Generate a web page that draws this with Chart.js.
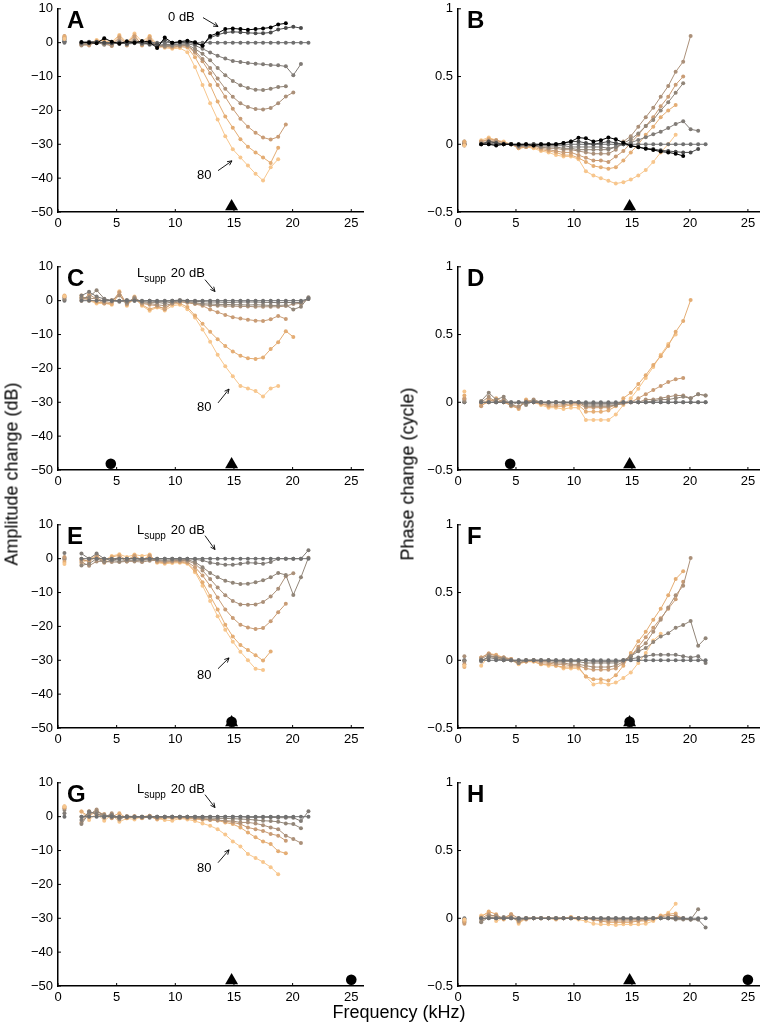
<!DOCTYPE html>
<html>
<head>
<meta charset="utf-8">
<title>Two-tone suppression panels</title>
<script src="https://cdn.jsdelivr.net/npm/chart.js@4.4.1/dist/chart.umd.min.js"></script>
<style>
  html, body { margin: 0; padding: 0; background: #fff; }
  #page { position: relative; width: 767px; height: 1030px; overflow: hidden;
          font-family: "Liberation Sans", Arial, sans-serif; color: #000; }
  #page canvas { position: absolute; }
  .axis-title { position: absolute; font-size: 18px; white-space: nowrap; transform: translate(-50%, -50%); }
  .axis-title.vertical { transform: translate(-50%, -50%) rotate(-90deg); }
</style>
</head>
<body>
<div id="page">
  <div class="axis-title vertical" style="left:12px; top:474px">Amplitude change (dB)</div>
  <div class="axis-title vertical" style="left:408px; top:474px">Phase change (cycle)</div>
  <div class="axis-title" style="left:399px; top:1012px">Frequency (kHz)</div>
</div>
<script>
// frequency grid (kHz) shared by all panels
const freqs = [2.00, 2.65, 3.29, 3.94, 4.58, 5.23, 5.87, 6.52, 7.16, 7.81,
  8.45, 9.10, 9.74, 10.39, 11.03, 11.68, 12.32, 12.97, 13.61, 14.26,
  14.90, 15.55, 16.19, 16.84, 17.48, 18.13, 18.77, 19.42, 20.06, 20.71, 21.35];
const lowFreq = 0.55;

const xTicks = [0, 5, 10, 15, 20, 25];
const ampTicks = [-50, -40, -30, -20, -10, 0, 10];
const phaseTicks = [-0.5, 0, 0.5, 1];

// suppressor levels (dB SPL)
const levelsAB = [0, 10, 20, 30, 40, 50, 60, 70, 80];
const levelsCH = [20, 30, 40, 50, 60, 70, 80];

// A: amplitude, levels 0..80
const ampA = [
  [0.2, 0.0, -0.2, 1.3, 0.3, -0.3, 0.4, 0.0, 0.5, 0.2, -1.6, 1.5, 0.0, 0.3, 0.6, 0.1, -0.9, 2.0, 2.8, 4.0, 4.2, 4.0, 3.8, 4.0, 4.2, 4.5, 5.4, 5.7, null, null, null],
  [0.0, 0.3, 0.2, 0.0, -0.2, 0.0, -0.3, 0.1, 0.0, -0.4, -0.5, 0.8, -0.2, 0.1, 0.2, -0.3, -0.8, 1.5, 2.3, 3.0, 3.2, 3.1, 2.9, 2.8, 2.8, 3.0, 3.9, 4.3, 4.7, 4.3, null],
  [0, 0, 0, 0, 0, 0, 0, 0, 0, 0, 0, 0, 0, 0, 0, 0, 0, 0, 0, 0, 0, 0, 0, 0, 0, 0, 0, 0, 0, 0, 0],
  [-0.2, 0.1, 0.3, -0.2, 0.0, 0.2, -0.4, -0.2, 0.0, -0.6, -0.8, -0.5, -0.6, -0.4, -0.3, -0.8, -1.8, -2.9, -3.9, -4.7, -5.4, -5.7, -6.0, -6.2, -6.4, -6.6, -6.7, -7.0, -9.6, -6.3, null],
  [-0.5, -0.2, 0.2, -0.6, 0.1, -0.3, -0.2, 0.5, -0.5, -0.2, -0.7, -0.9, -0.8, -0.6, -0.6, -1.8, -3.3, -5.2, -7.5, -9.6, -11.3, -12.6, -13.4, -13.9, -14.0, -13.6, -13.1, -12.9, null, null, null],
  [-0.8, -0.4, 0.0, -0.5, -0.8, 0.6, -0.6, 0.8, -0.3, 0.5, -1.0, -1.2, -1.0, -0.9, -0.8, -2.5, -4.8, -7.5, -10.6, -13.6, -16.0, -17.9, -19.0, -19.6, -19.7, -19.3, -17.9, -15.9, -14.7, null, null],
  [-0.6, -0.8, 0.3, 0.0, -1.0, 1.5, -0.8, 1.8, -0.6, 1.2, -1.2, -1.0, -1.3, -1.0, -1.0, -3.0, -5.5, -9.0, -12.5, -16.0, -19.5, -22.5, -24.8, -26.6, -28.0, -28.6, -27.8, -24.2, null, null, null],
  [-0.3, -0.5, 0.5, 0.8, -0.5, 2.0, -0.3, 2.2, -0.8, 1.8, -1.4, -1.2, -1.5, -1.2, -1.4, -4.3, -8.2, -12.5, -17.4, -21.8, -25.1, -28.5, -30.7, -32.4, -33.9, -35.5, -31.0, null, null, null, null],
  [-0.5, -0.3, 0.8, 0.5, 0.2, 2.3, 0.0, 2.7, 0.3, 2.0, -0.5, -1.5, -1.8, -1.6, -2.8, -7.2, -12.5, -17.9, -22.7, -27.6, -31.5, -33.9, -36.3, -38.7, -40.7, -36.8, -34.4, null, null, null, null]
];
const lowA = [0.3, 0.5, 0.0, 1.0, 1.2, 1.6, 2.0, 1.8, 1.1];

// B: phase, levels 0..80
const phaseB = [
  [0.0, 0.0, -0.01, 0.0, 0.0, 0.0, 0.0, -0.01, 0.0, 0.0, 0.0, 0.01, 0.02, 0.049, 0.044, 0.02, 0.03, 0.05, 0.037, 0.012, -0.012, -0.022, -0.034, -0.042, -0.054, -0.06, -0.07, -0.086, null, null, null],
  [0.0, 0.02, 0.01, 0.0, 0.0, -0.01, 0.0, 0.0, 0.0, 0.0, 0.0, 0.01, 0.02, 0.02, 0.01, 0.0, 0.01, 0.02, 0.01, 0.0, -0.01, -0.02, -0.03, -0.035, -0.045, -0.05, -0.055, -0.06, -0.06, -0.035, null],
  [0, 0, 0, 0, 0, 0, 0, 0, 0, 0, 0, 0, 0, 0, 0, 0, 0, 0, 0, 0, 0, 0, 0, 0, 0, 0, 0, 0, 0, 0, 0],
  [0.0, 0.01, 0.0, 0.0, 0.0, -0.01, -0.01, 0.0, -0.01, -0.01, -0.01, -0.01, -0.02, -0.02, -0.02, -0.02, -0.02, -0.03, -0.02, 0.0, 0.012, 0.032, 0.052, 0.074, 0.093, 0.12, 0.15, 0.17, 0.11, 0.10, null],
  [0.0, 0.02, 0.01, 0.0, 0.0, -0.01, -0.01, -0.01, -0.02, -0.02, -0.02, -0.03, -0.03, -0.04, -0.04, -0.04, -0.04, -0.04, -0.02, 0.007, 0.037, 0.08, 0.135, 0.18, 0.25, 0.31, 0.38, 0.45, null, null, null],
  [0.01, 0.02, 0.02, 0.0, 0.0, -0.02, -0.01, -0.01, -0.02, -0.03, -0.03, -0.04, -0.04, -0.05, -0.06, -0.07, -0.07, -0.07, -0.04, 0.02, 0.06, 0.13, 0.2, 0.27, 0.35, 0.43, 0.535, 0.61, 0.8, null, null],
  [0.02, 0.03, 0.03, 0.01, 0.0, -0.02, -0.02, -0.01, -0.03, -0.04, -0.05, -0.06, -0.06, -0.08, -0.1, -0.12, -0.12, -0.13, -0.09, -0.05, 0.01, 0.07, 0.135, 0.2, 0.28, 0.35, 0.44, 0.5, null, null, null],
  [0.02, 0.04, 0.03, 0.01, 0.0, -0.03, -0.02, -0.02, -0.04, -0.05, -0.06, -0.08, -0.08, -0.1, -0.13, -0.16, -0.17, -0.18, -0.17, -0.12, -0.06, 0.0, 0.07, 0.13, 0.2, 0.25, 0.29, null, null, null, null],
  [0.03, 0.05, 0.03, 0.02, 0.0, -0.03, -0.02, -0.03, -0.05, -0.06, -0.08, -0.09, -0.09, -0.11, -0.2, -0.23, -0.25, -0.27, -0.29, -0.28, -0.26, -0.23, -0.19, -0.13, -0.06, 0.0, 0.07, null, null, null, null]
];
const lowB = [0.0, 0.01, 0.0, -0.01, 0.02, 0.01, 0.0, 0.02, -0.01];

// C: amplitude, levels 20..80
const ampC = [
  [0, 0, 0, 0, 0, 0, 0, 0, 0, 0, 0, 0, 0, 0, 0, 0, 0, 0, 0, 0, 0, 0, 0, 0, 0, 0, 0, 0, 0, 0, 0.5],
  [1.5, 2.6, 1.2, 0.5, 0.0, -0.3, 0.2, 0.0, -0.2, 0.0, -0.3, -0.3, 0.0, 0.2, 0.0, -0.2, -0.3, -0.4, -0.4, -0.5, -0.5, -0.4, -0.4, -0.4, -0.5, -0.5, -0.6, -0.5, -0.6, -0.5, 0.8],
  [0.8, 1.0, 3.1, 0.6, 0.0, 0.0, -0.5, 0.5, -0.3, -0.5, -0.5, -0.8, -0.4, 0.0, -0.2, -0.6, -0.9, -1.0, -1.1, -1.1, -1.2, -1.2, -1.3, -1.2, -1.3, -1.4, -1.4, -1.3, -2.6, -1.8, 1.0],
  [0.5, 0.5, 0.8, -0.3, 0.2, 1.5, -0.8, 1.0, -0.6, -0.8, -1.2, -1.5, -0.8, -0.3, -0.5, -0.8, -1.2, -1.4, -1.5, -1.6, -1.6, -1.7, -1.7, -1.8, -1.8, -1.8, -1.8, -1.6, -1.0, -0.8, 0.5],
  [0.0, 1.8, 0.5, -0.8, -0.5, 2.5, -1.0, 0.8, -0.8, -1.2, -1.5, -2.5, -0.6, -0.3, -0.6, -1.0, -1.5, -2.6, -3.4, -4.2, -4.9, -5.3, -5.6, -5.9, -6.0, -5.5, -4.5, -5.4, null, null, null],
  [1.0, 0.3, -0.5, -0.6, -1.0, 1.8, -1.2, 0.5, -1.2, -2.5, -1.8, -2.2, -1.0, -0.8, -1.9, -4.4, -6.8, -9.2, -11.4, -13.4, -15.0, -16.3, -17.0, -17.2, -16.8, -14.3, -12.3, -9.0, -10.7, null, null],
  [1.5, 0.0, -0.8, -0.8, -1.2, 2.8, -1.5, 1.2, -1.5, -3.0, -2.0, -2.9, -1.5, -1.2, -2.5, -5.0, -8.5, -12.1, -16.0, -19.4, -22.3, -25.2, -25.9, -26.7, -28.3, -25.9, -25.2, null, null, null, null]
];
const lowC = [0.0, 0.3, 0.6, 1.0, 1.2, 1.5, 1.3];

// D: phase, levels 20..80
const phaseD = [
  [0, 0, 0, 0, 0, 0, 0, 0, 0, 0, 0, 0, 0, 0, 0, 0, 0, 0, 0, 0, 0, 0, 0, 0, 0, 0, 0, 0, 0, 0, 0],
  [0.0, 0.0, 0.0, 0.0, 0.0, 0.0, 0.0, 0.0, 0.0, 0.0, 0.0, 0.0, 0.0, 0.0, -0.01, -0.01, -0.01, -0.01, -0.01, 0.0, 0.0, 0.0, 0.0, 0.0, 0.0, 0.0, 0.0, 0.0, 0.0, 0.0, 0.0],
  [0.01, 0.07, 0.02, 0.04, -0.02, 0.0, -0.02, 0.01, 0.0, 0.0, 0.0, 0.0, 0.0, 0.0, -0.02, -0.02, -0.02, -0.02, -0.02, 0.0, 0.0, 0.0, 0.0, 0.01, 0.02, 0.02, 0.03, 0.04, 0.03, 0.06, 0.05],
  [0.0, 0.04, 0.0, 0.02, -0.02, -0.03, 0.0, 0.02, 0.0, -0.01, 0.0, -0.01, 0.0, 0.0, -0.03, -0.03, -0.03, -0.03, -0.02, -0.01, 0.0, 0.0, 0.02, 0.02, 0.03, 0.04, 0.05, 0.05, 0.03, 0.06, 0.05],
  [-0.03, 0.02, 0.0, 0.01, -0.03, -0.04, 0.01, 0.0, -0.01, -0.02, -0.02, -0.02, -0.01, -0.01, -0.04, -0.04, -0.04, -0.04, -0.02, -0.01, 0.0, 0.03, 0.06, 0.09, 0.12, 0.15, 0.17, 0.18, null, null, null],
  [-0.02, 0.0, 0.03, 0.0, -0.02, -0.05, 0.02, 0.0, -0.01, -0.03, -0.03, -0.03, -0.02, -0.02, -0.07, -0.07, -0.07, -0.06, -0.03, 0.03, 0.07, 0.134, 0.2, 0.275, 0.34, 0.416, 0.52, 0.6, 0.754, null, null],
  [-0.01, 0.02, 0.01, 0.0, -0.02, -0.04, 0.01, 0.0, -0.02, -0.04, -0.04, -0.05, -0.04, -0.04, -0.13, -0.13, -0.13, -0.13, -0.09, -0.02, 0.03, 0.1, 0.18, 0.26, 0.35, 0.43, 0.5, null, null, null, null]
];
const lowD = [0.0, 0.0, 0.01, 0.02, 0.03, 0.05, 0.08];

// E: amplitude, levels 20..80
const ampE = [
  [0, 0, 0, 0, 0, 0, 0, 0, 0, 0, 0, 0, 0, 0, 0, 0, 0, 0, 0, 0, 0, 0, 0, 0, 0, 0, 0, 0, 0, 0, 0],
  [1.5, 0.0, 1.5, 0.0, -0.5, 0.0, 0.0, 0.0, -0.3, 0.0, 0.0, 0.0, 0.0, 0.0, 0.0, -0.2, -0.5, -1.2, -1.5, -1.8, -1.8, -1.5, -1.2, -1.3, -1.5, -1.0, 0.0, 0.0, 0.0, 0.0, 2.5],
  [-2.0, -1.5, 0.0, -1.0, -0.5, -0.8, -0.5, -0.5, -0.5, -0.3, -0.3, -0.5, -0.3, -0.3, -0.3, -1.0, -2.5, -4.2, -5.5, -6.5, -7.1, -7.5, -7.4, -7.0, -6.4, -5.5, -4.2, -4.8, -10.7, -5.5, 0.3],
  [-1.0, -2.1, -0.8, -0.8, -1.0, -1.0, -0.8, -0.8, -1.0, -0.6, -0.5, -0.8, -0.6, -0.5, -0.6, -1.5, -3.5, -6.0, -8.5, -10.8, -12.5, -13.5, -13.6, -13.5, -12.8, -11.2, -8.9, -5.2, -4.3, null, null],
  [0.0, -1.0, 1.0, -1.2, -0.5, 0.5, -0.8, 0.8, -0.8, 0.8, -0.8, -1.0, -0.8, -0.8, -1.0, -2.5, -5.0, -8.0, -11.5, -15.0, -17.5, -19.5, -20.3, -20.8, -20.5, -18.5, -15.8, -13.3, null, null, null],
  [-0.5, -0.5, 0.5, -0.8, 0.5, 1.0, -0.5, 1.0, -0.5, 1.0, -1.0, -1.2, -1.0, -1.0, -1.3, -3.5, -7.0, -11.0, -15.0, -19.5, -23.0, -25.5, -27.0, -28.5, -30.1, -27.4, null, null, null, null, null],
  [-1.5, 0.0, 0.8, -0.5, 0.8, 1.3, 0.5, 1.2, 0.8, 1.2, -1.2, -1.5, -1.3, -1.2, -1.5, -4.0, -8.0, -12.5, -17.0, -21.0, -24.5, -27.5, -30.0, -32.5, -32.9, null, null, null, null, null, null]
];
const lowE = [0.0, 1.7, 0.3, -0.3, 0.5, -1.0, -1.6];

// F: phase, levels 20..80
const phaseF = [
  [0, 0, 0, 0, 0, 0, 0, 0, 0, 0, 0, 0, 0, 0, 0, 0, 0, 0, 0, 0, 0, 0, 0, 0, 0, 0, 0, 0, 0, 0, 0],
  [0.0, 0.02, 0.01, 0.0, 0.0, 0.0, 0.0, 0.0, 0.0, 0.0, 0.0, 0.0, 0.0, 0.0, 0.0, -0.01, -0.01, -0.01, -0.01, 0.0, 0.01, 0.02, 0.03, 0.04, 0.04, 0.04, 0.04, 0.03, 0.02, 0.03, -0.02],
  [-0.01, 0.03, 0.02, 0.01, 0.0, -0.02, 0.0, 0.0, 0.0, 0.0, -0.01, -0.01, -0.01, -0.01, -0.02, -0.02, -0.02, -0.02, -0.02, 0.0, 0.03, 0.066, 0.09, 0.134, 0.175, 0.2, 0.24, 0.26, 0.29, 0.107, 0.163],
  [0.01, 0.04, 0.02, 0.02, 0.0, -0.02, 0.0, 0.0, -0.01, -0.01, -0.02, -0.02, -0.03, -0.03, -0.04, -0.05, -0.05, -0.05, -0.04, -0.01, 0.03, 0.083, 0.126, 0.21, 0.3, 0.39, 0.48, 0.55, 0.754, null, null],
  [0.02, 0.05, 0.03, 0.02, 0.01, -0.02, -0.01, 0.0, -0.02, -0.02, -0.03, -0.03, -0.04, -0.04, -0.06, -0.07, -0.07, -0.07, -0.06, -0.02, 0.03, 0.1, 0.17, 0.24, 0.31, 0.38, 0.45, 0.58, null, null, null],
  [0.02, 0.05, 0.04, 0.02, 0.01, -0.02, -0.01, -0.01, -0.03, -0.03, -0.04, -0.05, -0.05, -0.05, -0.12, -0.14, -0.14, -0.15, -0.11, -0.04, 0.054, 0.14, 0.21, 0.3, 0.38, 0.48, 0.6, 0.657, null, null, null],
  [-0.04, 0.03, 0.02, 0.0, 0.0, -0.03, -0.01, -0.01, -0.03, -0.04, -0.04, -0.06, -0.06, -0.06, -0.12, -0.178, -0.165, -0.178, -0.165, -0.13, -0.09, -0.02, 0.054, 0.146, 0.195, null, null, null, null, null, null]
];
const lowF = [0.0, 0.0, -0.01, 0.03, -0.03, -0.05, -0.04];

// G: amplitude, levels 20..80
const ampG = [
  [0, 0, 0, 0, 0, 0, 0, 0, 0, 0, 0, 0, 0, 0, 0, 0, 0, 0, 0, 0, 0, 0, 0, 0, 0, 0, 0, 0, 0, 0, 0],
  [-1.0, 1.5, 0.8, 0.0, 0.5, -0.3, 0.0, 0.0, 0.0, -0.3, 0.0, 0.0, 0.0, 0.0, 0.0, 0.0, 0.0, 0.0, 0.0, 0.0, 0.0, 0.0, -0.2, -0.2, -0.2, -0.2, -0.3, -0.3, -0.3, -1.3, 1.6],
  [-2.2, 1.0, 1.5, 0.5, 0.0, -0.5, 0.0, -0.3, 0.0, 0.0, 0.0, -0.2, 0.0, 0.0, 0.0, -0.2, -0.3, -0.4, -0.5, -0.5, -0.6, -0.7, -0.8, -1.0, -1.2, -1.3, -1.5, -2.0, -2.2, -3.4, null],
  [0.0, 0.5, 2.1, -0.3, 1.0, -0.8, 0.2, 0.0, -0.2, 0.3, -0.3, -0.2, 0.0, -0.3, -0.2, -0.4, -0.6, -0.8, -1.0, -1.2, -1.3, -1.7, -1.7, -2.0, -2.5, -3.2, -3.7, -5.6, -6.6, -7.8, null],
  [-1.8, 1.6, 0.5, 0.8, -0.5, 0.2, -0.3, 0.2, -0.4, 0.0, -0.5, 0.0, -0.3, -0.2, -0.3, -0.5, -0.7, -0.9, -1.1, -1.3, -1.7, -2.2, -3.2, -3.7, -4.2, -5.1, -5.6, -7.1, null, null, null],
  [1.5, 0.0, 1.8, 0.5, 0.0, 1.0, -0.5, 0.0, -0.5, 0.0, -0.8, -0.3, -0.5, -0.3, -0.5, -0.7, -0.9, -1.0, -1.1, -1.7, -2.2, -3.2, -4.7, -6.1, -7.3, -8.1, -10.2, -10.8, null, null, null],
  [1.5, -1.0, 1.0, -1.2, 0.5, -1.5, -0.5, -0.8, 0.0, 0.3, -0.5, -1.0, -1.2, -0.5, -0.8, -1.3, -2.0, -2.7, -3.7, -5.3, -7.3, -8.8, -11.0, -12.2, -13.4, -14.9, -17.0, null, null, null, null]
];
const lowG = [0.0, 1.0, 2.0, 2.5, 3.0, 2.7, 3.1];

// H: phase, levels 20..80
const phaseH = [
  [0, 0, 0, 0, 0, 0, 0, 0, 0, 0, 0, 0, 0, 0, 0, 0, 0, 0, 0, 0, 0, 0, 0, 0, 0, 0, 0, 0, 0, 0, 0],
  [0, 0, 0, 0, 0, 0, 0, 0, 0, 0, 0, 0, 0, 0, 0, 0, 0, 0, 0, 0, 0, 0, 0, 0, 0, 0, 0, 0, -0.01, -0.01, -0.068],
  [-0.03, 0.01, 0.0, 0.01, 0.0, -0.01, 0.0, 0.0, 0.0, 0.0, 0.0, 0.0, 0.0, 0.0, 0.0, 0.0, 0.0, 0.0, 0.0, 0.0, 0.0, 0.0, 0.0, 0.0, 0.0, 0.0, -0.01, -0.01, -0.01, 0.066, null],
  [-0.02, 0.02, 0.02, 0.0, 0.01, -0.02, 0.0, 0.0, 0.0, 0.0, 0.0, 0.0, 0.0, 0.0, 0.0, 0.0, -0.01, -0.01, -0.01, -0.01, -0.01, -0.01, -0.01, 0.0, 0.0, 0.0, 0.01, 0.0, -0.01, -0.01, null],
  [0.0, 0.03, 0.01, 0.0, 0.03, 0.0, -0.01, 0.0, 0.0, 0.0, 0.0, 0.0, 0.0, 0.0, 0.0, -0.01, -0.02, -0.02, -0.02, -0.02, -0.02, -0.02, -0.01, 0.0, 0.01, 0.02, 0.02, 0.0, null, null, null],
  [0.01, 0.05, 0.03, -0.01, 0.02, -0.03, 0.0, 0.0, 0.0, 0.0, -0.01, 0.0, 0.01, 0.0, 0.0, -0.01, -0.02, -0.03, -0.03, -0.03, -0.03, -0.02, -0.02, -0.01, 0.02, 0.03, 0.036, null, null, null, null],
  [0.02, 0.04, -0.02, 0.0, 0.03, -0.04, 0.0, 0.0, 0.0, 0.0, 0.0, 0.0, 0.0, -0.01, -0.02, -0.04, -0.045, -0.045, -0.05, -0.045, -0.045, -0.045, -0.04, -0.02, 0.01, 0.04, 0.107, null, null, null, null]
];
const lowH = [0.0, -0.01, -0.02, -0.03, -0.04, -0.02, -0.01];

// probe / suppressor frequency markers (kHz)
const triangleFreq = 14.8;
const circleFreqs = [null, 4.5, 14.8, 25.0];   // per row
const markerY = { amp: { tri: -48.4, dot: -48.15 }, phase: { tri: -0.46, dot: -0.454 } };

// text notes, placed in data units
const notesA = [
  { label: '0 dB', at: [9.38, 7.4], arrow: [12.36, 7.4, 13.64, 4.76] },
  { label: '80', at: [11.85, -39.2], arrow: [13.64, -37.8, 14.83, -34.9] }
];
const notesC = [
  { label: 'L', sub: 'supp', tail: '20 dB', at: [6.73, 8.0], arrow: [12.53, 6.2, 13.38, 2.7] },
  { label: '80', at: [11.85, -31.65], arrow: [13.64, -30.2, 14.58, -26.1] }
];
const notesE = [
  { label: 'L', sub: 'supp', tail: '20 dB', at: [6.73, 8.25], arrow: [12.53, 6.8, 13.38, 2.7] },
  { label: '80', at: [11.85, -34.6], arrow: [13.64, -32.5, 14.58, -29.3] }
];
const notesG = [
  { label: 'L', sub: 'supp', tail: '20 dB', at: [6.73, 8.0], arrow: [12.53, 6.5, 13.38, 2.7] },
  { label: '80', at: [11.85, -15.3], arrow: [13.64, -13.6, 14.58, -9.8] }
];

const levelColors = { 0: '#000000', 10: '#4b4b4b', 20: '#707070', 30: '#807b76', 40: '#918578',
  50: '#ab9079', 60: '#c99c75', 70: '#e4ad74', 80: '#f7c68d' };

// layout
const rowTops = [6, 264, 522, 780];
const plotH = 206, plotW = 305, yAxisW = 58, xAxisH = 26, padTop = 10;
const canvasLefts = [0, 400];
const canvasWidths = [380, 367];
const FONT = '"Liberation Sans", Arial, sans-serif';

const fmt = v => (v < 0 ? '\u2212' : '') + String(Math.abs(v));

const panelDecor = {
  id: 'panelDecor',
  afterDraw(chart, args, opts) {
    const { ctx, chartArea, scales } = chart;
    const xs = scales.x, ys = scales.y;
    ctx.save();
    ctx.strokeStyle = '#000';
    ctx.lineWidth = 1;
    ctx.beginPath();
    xs.ticks.forEach(t => {
      const px = xs.getPixelForValue(t.value);
      ctx.moveTo(px, chartArea.bottom);
      ctx.lineTo(px, chartArea.bottom - 3);
    });
    ys.ticks.forEach(t => {
      const py = ys.getPixelForValue(t.value);
      ctx.moveTo(chartArea.left, py);
      ctx.lineTo(chartArea.left + 3, py);
    });
    ctx.stroke();

    // panel letter
    ctx.fillStyle = '#000';
    ctx.font = 'bold 24px ' + FONT;
    ctx.textAlign = 'left';
    ctx.textBaseline = 'alphabetic';
    ctx.fillText(opts.letter, chartArea.left + 9, chartArea.top + 19);

    // notes with arrows
    (opts.notes || []).forEach(n => {
      let x = xs.getPixelForValue(n.at[0]);
      const y = ys.getPixelForValue(n.at[1]);
      ctx.textBaseline = 'middle';
      ctx.font = '13px ' + FONT;
      ctx.fillText(n.label, x, y);
      x += ctx.measureText(n.label).width;
      if (n.sub) {
        ctx.font = '10px ' + FONT;
        ctx.fillText(n.sub, x, y + 6);
        x += ctx.measureText(n.sub).width + 5;
        ctx.font = '13px ' + FONT;
        ctx.fillText(n.tail, x, y);
      }
      const [ax1, ay1, ax2, ay2] = n.arrow;
      const x1 = xs.getPixelForValue(ax1), y1 = ys.getPixelForValue(ay1);
      const x2 = xs.getPixelForValue(ax2), y2 = ys.getPixelForValue(ay2);
      const ang = Math.atan2(y2 - y1, x2 - x1);
      ctx.lineWidth = 0.9;
      ctx.beginPath();
      ctx.moveTo(x1, y1);
      ctx.lineTo(x2, y2);
      ctx.moveTo(x2 - 5 * Math.cos(ang - 0.45), y2 - 5 * Math.sin(ang - 0.45));
      ctx.lineTo(x2, y2);
      ctx.lineTo(x2 - 5 * Math.cos(ang + 0.45), y2 - 5 * Math.sin(ang + 0.45));
      ctx.stroke();
    });
    ctx.restore();
  }
};

const panels = [
  { letter: 'A', row: 0, col: 0, kind: 'amp', levels: levelsAB, series: ampA, low: lowA, notes: notesA },
  { letter: 'B', row: 0, col: 1, kind: 'phase', levels: levelsAB, series: phaseB, low: lowB },
  { letter: 'C', row: 1, col: 0, kind: 'amp', levels: levelsCH, series: ampC, low: lowC, notes: notesC },
  { letter: 'D', row: 1, col: 1, kind: 'phase', levels: levelsCH, series: phaseD, low: lowD },
  { letter: 'E', row: 2, col: 0, kind: 'amp', levels: levelsCH, series: ampE, low: lowE, notes: notesE },
  { letter: 'F', row: 2, col: 1, kind: 'phase', levels: levelsCH, series: phaseF, low: lowF },
  { letter: 'G', row: 3, col: 0, kind: 'amp', levels: levelsCH, series: ampG, low: lowG, notes: notesG },
  { letter: 'H', row: 3, col: 1, kind: 'phase', levels: levelsCH, series: phaseH, low: lowH }
];

const page = document.getElementById('page');

function buildPanel(p) {
  const canvas = document.createElement('canvas');
  const cw = canvasWidths[p.col];
  canvas.width = cw;
  canvas.height = padTop + plotH + xAxisH;
  canvas.style.left = canvasLefts[p.col] + 'px';
  canvas.style.top = (rowTops[p.row] - padTop) + 'px';
  page.insertBefore(canvas, page.firstChild);

  const amp = p.kind === 'amp';
  const yTicks = amp ? ampTicks : phaseTicks;
  const my = amp ? markerY.amp : markerY.phase;

  const datasets = [];
  // triangle first so it sits on top of a circle at the same frequency
  datasets.push({
    data: [{ x: triangleFreq, y: my.tri }],
    pointStyle: 'triangle', pointRadius: 7.5, pointBorderWidth: 0,
    backgroundColor: '#000', borderColor: '#000', showLine: false
  });
  const cf = circleFreqs[p.row];
  if (cf !== null) {
    datasets.push({
      data: [{ x: cf, y: my.dot }],
      pointStyle: 'circle', pointRadius: 5.3, pointBorderWidth: 0,
      backgroundColor: '#000', borderColor: '#000', showLine: false
    });
  }
  p.levels.forEach((lv, k) => {
    const c = levelColors[lv];
    datasets.push({
      label: lv + ' dB',
      data: freqs.map((f, i) => ({ x: f, y: p.series[k][i] })),
      showLine: true, borderColor: c, backgroundColor: c,
      borderWidth: 1, pointRadius: 2, pointBorderWidth: 0, spanGaps: false
    });
  });
  datasets.push({
    data: p.low.map(v => ({ x: lowFreq, y: v })),
    showLine: false, pointRadius: 2, pointBorderWidth: 0,
    backgroundColor: p.levels.map(lv => levelColors[lv])
  });

  new Chart(canvas, {
    type: 'scatter',
    data: { datasets },
    options: {
      responsive: false,
      animation: false,
      devicePixelRatio: 1,
      events: [],
      layout: { padding: { top: padTop, left: 0, bottom: 0, right: cw - yAxisW - plotW } },
      plugins: {
        legend: { display: false },
        tooltip: { enabled: false },
        panelDecor: { letter: p.letter, notes: p.notes }
      },
      scales: {
        x: {
          type: 'linear', min: 0, max: 26,
          afterBuildTicks: s => { s.ticks = xTicks.map(v => ({ value: v })); },
          afterFit: s => { s.height = xAxisH; },
          grid: { display: false, drawTicks: false },
          border: { display: true, color: '#000', width: 1.5 },
          ticks: { color: '#000', padding: 4, maxRotation: 0, autoSkip: false,
                   font: { family: FONT, size: 13 }, callback: v => fmt(v) }
        },
        y: {
          type: 'linear', min: yTicks[0], max: yTicks[yTicks.length - 1],
          afterBuildTicks: s => { s.ticks = yTicks.map(v => ({ value: v })); },
          afterFit: s => { s.width = yAxisW; },
          grid: { display: false, drawTicks: false },
          border: { display: true, color: '#000', width: 1.5 },
          ticks: { color: '#000', padding: 5, autoSkip: false,
                   font: { family: FONT, size: 13 }, callback: v => fmt(v) }
        }
      }
    },
    plugins: [panelDecor]
  });
}

panels.forEach(buildPanel);
</script>
</body>
</html>
